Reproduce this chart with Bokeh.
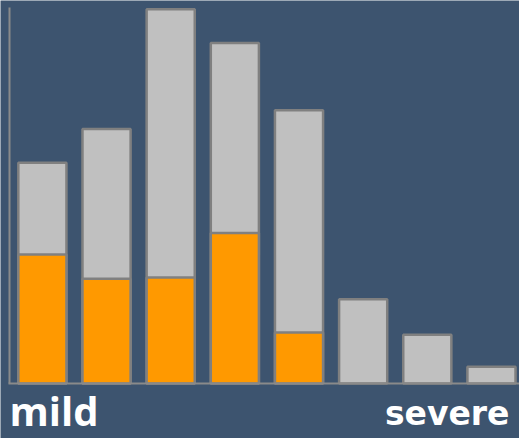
from bokeh.plotting import figure
from bokeh.embed import file_html
from bokeh.resources import INLINE
from bokeh.core.properties import value

# data
categories = ["1", "2", "3", "4", "5", "6", "7", "8"]
total_values = [59, 68, 100, 91, 73, 22.5, 13, 4.5]
mild_values = [34.5, 28, 28.3, 40.2, 13.6]
label_left = "mild"
label_right = "severe"

BG = "#3d546f"
GREY = "#c0c0c0"
EDGE = "#808080"
ORANGE = "#ff9900"

W, H = 519, 438
x0, x1 = -0.653, 7.437
y0, y1 = -14.7, 102.35
px = (x1 - x0) / W
py = (y1 - y0) / H

p = figure(width=W, height=H, output_backend="svg", toolbar_location=None,
           x_range=(x0, x1), y_range=(y0, y1), min_border=0)
p.axis.visible = False
p.grid.visible = False
p.outline_line_color = None
p.background_fill_color = BG
p.border_fill_color = BG

idx = list(range(len(categories)))
p.vbar(x=idx, top=total_values, bottom=0, width=0.75, fill_color=GREY,
       line_color=EDGE, line_width=2.5)
p.vbar(x=idx[:len(mild_values)], top=mild_values, bottom=0, width=0.75,
       fill_color=ORANGE, line_color=EDGE, line_width=2.5)

# axis lines
ax_x = x0 + 9 * px
p.segment(x0=[ax_x], y0=[0], x1=[ax_x], y1=[y1 - 7 * py], line_color="#8a8a8a", line_width=2)
p.segment(x0=[x0 + 8 * px], y0=[0], x1=[x1], y1=[0], line_color="#8a8a8a", line_width=2)

# labels
p.text(x=[x0 + 9 * px], y=[y1 - 410 * py], text=[label_left], text_font=value("Open Sans"),
       text_font_style="bold", text_font_size="40px", text_color="white",
       text_align="left", text_baseline="alphabetic")
p.text(x=[x0 + 509 * px], y=[y1 - 413 * py], text=[label_right], text_font=value("DejaVu Sans"),
       text_font_style="bold", text_font_size="33px", text_color="white",
       text_align="right", text_baseline="alphabetic")

html = file_html(p, INLINE)
html = html.replace("<body>", '<body style="background-color:%s;">' % BG, 1)
open("out.html", "w").write(html)
